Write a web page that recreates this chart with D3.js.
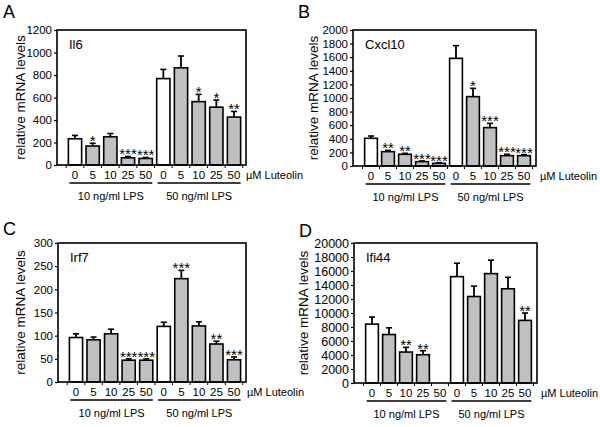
<!DOCTYPE html>
<html>
<head>
<meta charset="utf-8">
<script src="https://cdn.jsdelivr.net/npm/d3@7"></script>
<style>
  body { margin: 0; background: #fff; }
  text { font-family: "Liberation Sans", Arial, sans-serif; fill: #000; }
</style>
</head>
<body>
<div id="chart"></div>
<script>
// categories
var doses = ["0", "5", "10", "25", "50", "0", "5", "10", "25", "50"];
var groups = ["10 ng/ml LPS", "50 ng/ml LPS"];

// Il6
var il6Mean = [233, 169, 251, 64, 58, 768, 864, 563, 514, 426];
var il6Sem  = [30, 24, 29, 12, 9, 82, 105, 65, 64, 50];
var il6Sig  = ["", "*", "", "***", "***", "", "", "*", "*", "**"];
var il6Ticks = [0, 200, 400, 600, 800, 1000, 1200];

// Cxcl10
var cxclMean = [407, 211, 172, 64, 39, 1583, 1020, 564, 152, 152];
var cxclSem  = [34, 19, 14, 10, 10, 187, 122, 63, 20, 15];
var cxclSig  = ["", "**", "**", "***", "***", "", "*", "***", "***", "***"];
var cxclTicks = [0, 200, 400, 600, 800, 1000, 1200, 1400, 1600, 1800, 2000];

// Irf7
var irfMean = [96, 91, 104, 47, 47, 120, 223, 121, 82, 48];
var irfSem  = [8, 6, 10, 3, 3, 9, 18, 9, 6, 6];
var irfSig  = ["", "", "", "***", "***", "", "***", "", "**", "***"];
var irfTicks = [0, 50, 100, 150, 200, 250, 300];

// Ifi44 (no bar for 50 uM at 10 ng/ml)
var ifiMean = [8413, 6923, 4423, 4038, null, 15192, 12356, 15625, 13462, 8942];
var ifiSem  = [1010, 962, 673, 577, null, 1923, 1490, 1923, 1634, 1058];
var ifiSig  = ["", "", "**", "**", "", "", "", "", "", "**"];
var ifiTicks = [0, 2000, 4000, 6000, 8000, 10000, 12000, 14000, 16000, 18000, 20000];

var svg = d3.select("#chart").append("svg")
  .attr("width", 600)
  .attr("height", 427);

function drawPanel(p) {
  var g = svg.append("g");
  var half = (p.right - p.left - 30) / 18;
  var x = d3.scaleBand()
    .domain(d3.range(doses.length))
    .range([p.left + 18 - half, p.right - 12 + half])
    .paddingInner(0.25)
    .paddingOuter(0.125);
  var y = d3.scaleLinear()
    .domain([0, p.ticks[p.ticks.length - 1]])
    .range([p.bottom, p.top]);

  // panel letter
  g.append("text").attr("x", p.letterX).attr("y", p.letterY)
    .attr("font-size", 18).text(p.letter);

  // y axis title
  g.append("text")
    .attr("transform", "translate(" + p.titleX + "," + ((p.top + p.bottom) / 2) + ") rotate(-90)")
    .attr("text-anchor", "middle").attr("font-size", 13.5)
    .text("relative mRNA levels");

  // y ticks
  var yAxis = d3.axisLeft(y).tickValues(p.ticks).tickSize(3).tickPadding(2).tickFormat(d3.format("d"));
  var ya = g.append("g").attr("transform", "translate(" + p.left + ",0)").call(yAxis);
  ya.select(".domain").remove();
  ya.selectAll("line").attr("stroke", "#000").attr("stroke-width", 1.2);
  ya.selectAll("text").attr("font-size", p.tickFont).attr("font-family", "Liberation Sans, Arial, sans-serif");

  // x ticks at category boundaries
  var step = x.step();
  var bounds = d3.range(doses.length + 1).map(function(i) {
    return x(0) - step * x.paddingInner() / 2 + i * step;
  });
  g.selectAll(".xt").data(bounds).enter().append("line")
    .attr("x1", function(d) { return d; }).attr("x2", function(d) { return d; })
    .attr("y1", p.bottom).attr("y2", p.bottom + 3)
    .attr("stroke", "#000").attr("stroke-width", 1);

  // bars
  var idx = d3.range(doses.length).filter(function(i) { return p.mean[i] != null; });
  g.selectAll(".bar").data(idx).enter().append("rect")
    .attr("x", function(i) { return x(i); })
    .attr("y", function(i) { return y(p.mean[i]); })
    .attr("width", x.bandwidth())
    .attr("height", function(i) { return y(0) - y(p.mean[i]); })
    .attr("fill", function(i) { return doses[i] === "0" ? "#fff" : "#c0c0c0"; })
    .attr("stroke", "#000").attr("stroke-width", 1.6);

  // error bars (upper only)
  var cx = function(i) { return x(i) + x.bandwidth() / 2; };
  g.selectAll(".eb").data(idx).enter().append("line")
    .attr("x1", cx).attr("x2", cx)
    .attr("y1", function(i) { return y(p.mean[i]); })
    .attr("y2", function(i) { return y(p.mean[i] + p.sem[i]); })
    .attr("stroke", "#000").attr("stroke-width", 1.8);
  g.selectAll(".ec").data(idx).enter().append("line")
    .attr("x1", function(i) { return cx(i) - 3; })
    .attr("x2", function(i) { return cx(i) + 3; })
    .attr("y1", function(i) { return y(p.mean[i] + p.sem[i]); })
    .attr("y2", function(i) { return y(p.mean[i] + p.sem[i]); })
    .attr("stroke", "#000").attr("stroke-width", 1.6);

  // significance stars
  g.selectAll(".sig").data(idx.filter(function(i) { return p.sig[i]; })).enter().append("text")
    .attr("x", cx)
    .attr("y", function(i) { return y(p.mean[i] + p.sem[i]) + 3; })
    .attr("text-anchor", "middle").attr("font-size", 15)
    .text(function(i) { return p.sig[i]; });

  // frame
  g.append("rect")
    .attr("x", p.left).attr("y", p.top)
    .attr("width", p.right - p.left).attr("height", p.bottom - p.top)
    .attr("fill", "none").attr("stroke", "#000").attr("stroke-width", 1.6);

  // gene label
  g.append("text").attr("x", p.left + 12).attr("y", p.top + 19)
    .attr("font-size", 13).text(p.gene);

  // dose labels
  g.selectAll(".dl").data(doses).enter().append("text")
    .attr("x", function(d, i) { return cx(i); })
    .attr("y", p.bottom + 14)
    .attr("text-anchor", "middle").attr("font-size", 11.5)
    .text(function(d) { return d; });
  g.append("text").attr("x", p.right + p.unitGap).attr("y", p.bottom + 14)
    .attr("font-size", 11).text("\u00b5M Luteolin");

  // group lines and labels
  groups.forEach(function(name, k) {
    var a = x(k * 5) + 1, b = x(k * 5 + 4) + x.bandwidth();
    g.append("line").attr("x1", a).attr("x2", b)
      .attr("y1", p.bottom + 18).attr("y2", p.bottom + 18)
      .attr("stroke", "#000").attr("stroke-width", 1.6);
    g.append("text").attr("x", (a + b) / 2).attr("y", p.bottom + 35)
      .attr("text-anchor", "middle").attr("font-size", 11).text(name);
  });
}

drawPanel({letter: "A", gene: "Il6", mean: il6Mean, sem: il6Sem, sig: il6Sig, ticks: il6Ticks,
  left: 57, right: 246, top: 30, bottom: 165, titleX: 25, letterX: 3, letterY: 18, tickFont: 11.5, unitGap: 0});
drawPanel({letter: "B", gene: "Cxcl10", mean: cxclMean, sem: cxclSem, sig: cxclSig, ticks: cxclTicks,
  left: 353, right: 536, top: 30, bottom: 166, titleX: 318, letterX: 298, letterY: 18, tickFont: 11.5, unitGap: 4});
drawPanel({letter: "C", gene: "Irf7", mean: irfMean, sem: irfSem, sig: irfSig, ticks: irfTicks,
  left: 58, right: 246, top: 243, bottom: 382, titleX: 25, letterX: 3, letterY: 235, tickFont: 11.5, unitGap: 1});
drawPanel({letter: "D", gene: "Ifi44", mean: ifiMean, sem: ifiSem, sig: ifiSig, ticks: ifiTicks,
  left: 354, right: 537, top: 243, bottom: 383, titleX: 308, letterX: 299, letterY: 237, tickFont: 12.5, unitGap: 4});
</script>
</body>
</html>
